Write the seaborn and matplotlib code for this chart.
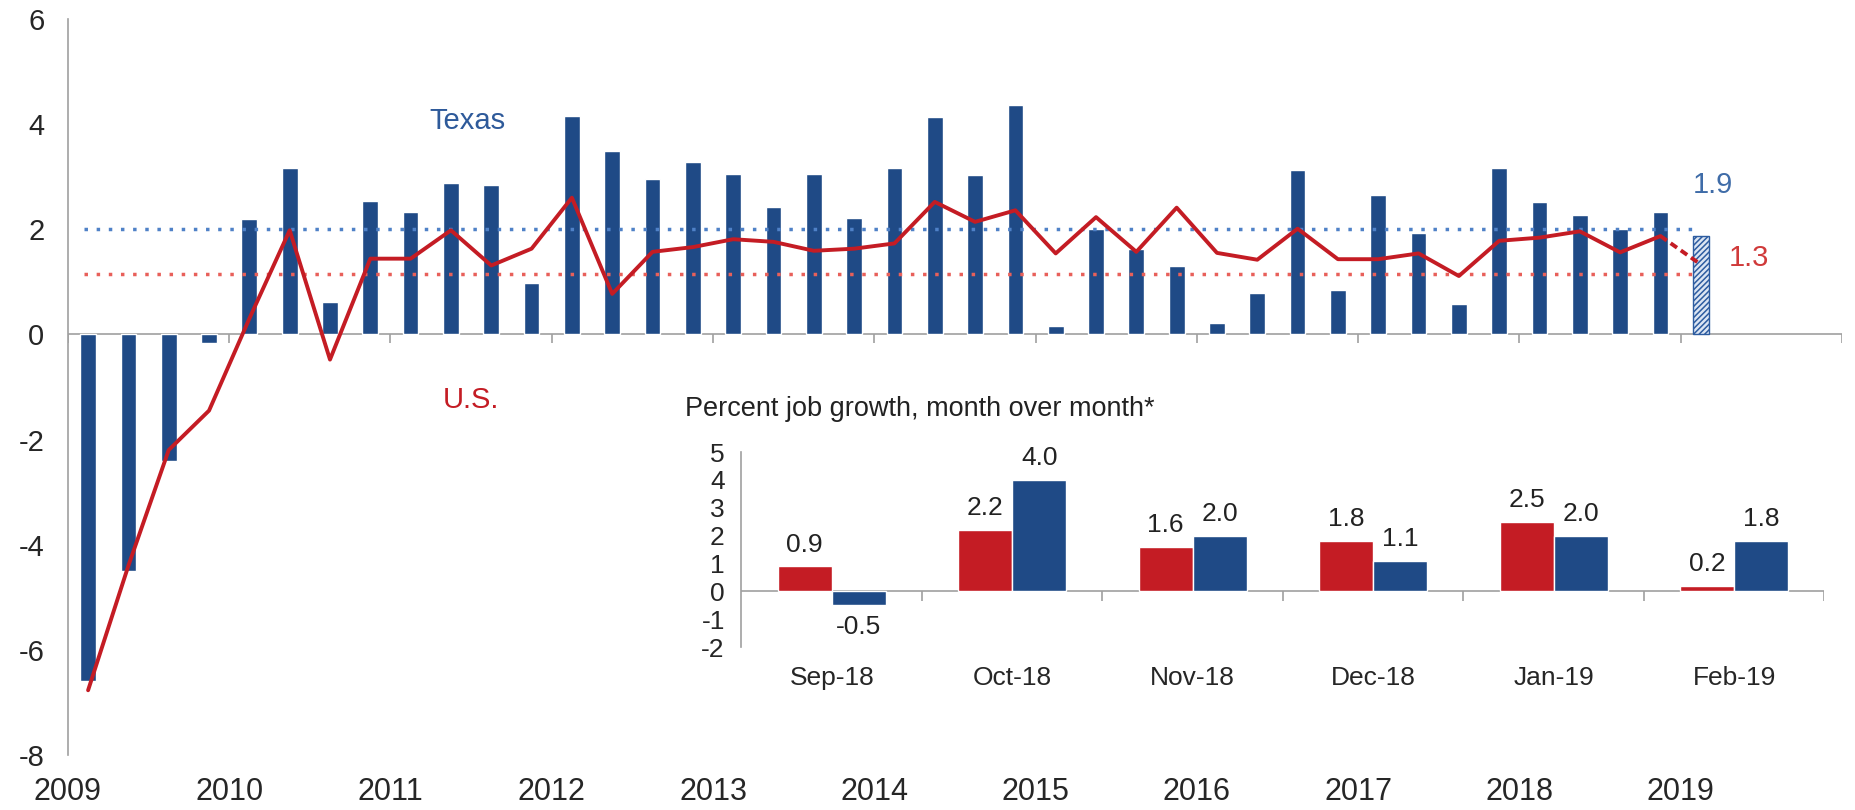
import numpy as np
import pandas as pd
import matplotlib
matplotlib.use("Agg")
import matplotlib.pyplot as plt
import seaborn as sns

# quarterly job growth (annualized %), 2009Q1 .. 2019Q1
years = ["2009", "2010", "2011", "2012", "2013", "2014", "2015", "2016", "2017", "2018", "2019"]
texas = [-6.6, -4.5, -2.4, -0.17, 2.19, 3.17, 0.62, 2.53, 2.32, 2.87, 2.84, 0.97,
         4.16, 3.49, 2.95, 3.28, 3.05, 2.43, 3.05, 2.22, 3.17, 4.13, 3.03, 4.36,
         0.15, 2.0, 1.63, 1.30, 0.21, 0.78, 3.13, 0.85, 2.66, 1.93, 0.57, 3.16,
         2.52, 2.28, 2.01, 2.33, 1.87]
us = [-6.77, -4.4, -2.2, -1.45, 0.3, 1.98, -0.48, 1.44, 1.44, 1.98, 1.31, 1.63,
      2.60, 0.77, 1.57, 1.66, 1.81, 1.76, 1.59, 1.63, 1.73, 2.52, 2.14, 2.36,
      1.54, 2.23, 1.57, 2.41, 1.55, 1.42, 2.01, 1.43, 1.43, 1.54, 1.11, 1.78,
      1.84, 1.96, 1.56, 1.87, 1.33]
texas_avg = 2.0
us_avg = 1.15

# inset: month over month
months = ["Sep-18", "Oct-18", "Nov-18", "Dec-18", "Jan-19", "Feb-19"]
us_mom = [0.9, 2.2, 1.6, 1.8, 2.5, 0.2]
texas_mom = [-0.5, 4.0, 2.0, 1.1, 2.0, 1.8]

navy = "#1f4a86"
red = "#c41c24"
gray = "#a0a0a0"

sns.set_style("white")
plt.rcParams["font.family"] = ["Liberation Sans", "DejaVu Sans"]
plt.rcParams["axes.unicode_minus"] = False
plt.rcParams["hatch.linewidth"] = 1.1

fig = plt.figure(figsize=(18.56, 8.1), dpi=100)
ax = fig.add_axes([0.0366, 0.068, 0.9558, 0.9086])

df = pd.DataFrame({"q": np.arange(len(texas)), "texas": texas, "us": us})
sns.barplot(data=df, x="q", y="texas", native_scale=True, color=navy,
            saturation=1, width=0.39, ax=ax, zorder=2)
last = ax.patches[-1]
last.set_facecolor("#dbe5f3")
last.set_edgecolor("#2d5ca0")
last.set_hatch("//////")
last.set_linewidth(1.0)

n = len(texas)
ax.hlines(texas_avg, -0.1, n - 1.2, colors="#4f81c7", linestyles=(0, (1, 2.5)), lw=2.5, zorder=3)
ax.hlines(us_avg, -0.1, n - 1.2, colors="#e8605a", linestyles=(0, (1, 2.5)), lw=2.5, zorder=3)

sns.lineplot(data=df.iloc[:n - 1], x="q", y="us", color=red, lw=2.8, ax=ax, zorder=4)
sns.lineplot(data=df.iloc[n - 2:], x="q", y="us", color=red, lw=2.8, ax=ax,
             linestyle=(0, (2, 1.2)), zorder=4)

ax.axhline(0, color=gray, lw=1.2, zorder=1)
bounds = [-0.5 + 4 * k for k in range(12)]
ax.vlines(bounds, -0.16, 0, colors=gray, lw=1.2)

ax.set_xlim(-0.5, 43.5)
ax.set_ylim(-8, 6)
ax.set_yticks(range(-8, 7, 2))
ax.set_xticks(bounds[:len(years)], labels=years)
ax.tick_params(axis="x", length=0, pad=16, labelsize=22)
ax.tick_params(axis="y", direction="out", length=7, color=gray, width=1.2, pad=10, labelsize=21)
ax.set_xlabel("")
ax.set_ylabel("")
for s in ["top", "right", "bottom"]:
    ax.spines[s].set_visible(False)
ax.spines["left"].set_color(gray)
ax.spines["left"].set_linewidth(1.2)

ax.text(9.4, 4.05, "Texas", color="#2e5a9a", fontsize=21, ha="center", va="center")
ax.text(9.5, -1.25, "U.S.", color=red, fontsize=21, ha="center", va="center")
ax.text(40.3, 2.85, "1.9", color="#3f6ca8", fontsize=21, ha="center", va="center")
ax.text(41.2, 1.45, "1.3", color="#d03a3a", fontsize=21, ha="center", va="center")

# inset
ax2 = fig.add_axes([0.3995, 0.2012, 0.5835, 0.2407])
ax2.set_facecolor("none")
mom = pd.DataFrame({
    "month": months * 2,
    "series": ["U.S."] * len(months) + ["Texas"] * len(months),
    "value": us_mom + texas_mom,
})
sns.barplot(data=mom, x="month", y="value", hue="series", hue_order=["U.S.", "Texas"],
            palette=[red, navy], saturation=1, width=0.6, legend=False, ax=ax2, zorder=2)
for c in ax2.containers:
    ax2.bar_label(c, fmt="%.1f", padding=7, fontsize=19, color="#222222")

ax2.axhline(0, color=gray, lw=1.2, zorder=1)
ax2.vlines(np.arange(len(months)) + 0.5, -0.35, 0, colors=gray, lw=1.2)
ax2.set_xlim(-0.5, len(months) - 0.5)
ax2.set_ylim(-2, 5)
ax2.set_yticks(range(-2, 6))
ax2.tick_params(axis="x", length=0, pad=14, labelsize=19)
ax2.tick_params(axis="y", direction="out", length=6, color=gray, width=1.2, pad=6, labelsize=19)
ax2.set_xlabel("")
ax2.set_ylabel("")
for s in ["top", "right", "bottom"]:
    ax2.spines[s].set_visible(False)
ax2.spines["left"].set_color(gray)
ax2.spines["left"].set_linewidth(1.2)

fig.text(0.369, 0.495, "Percent job growth, month over month*", fontsize=19.5,
         ha="left", va="center", color="#222222")

fig.savefig("out.png", dpi=100)
